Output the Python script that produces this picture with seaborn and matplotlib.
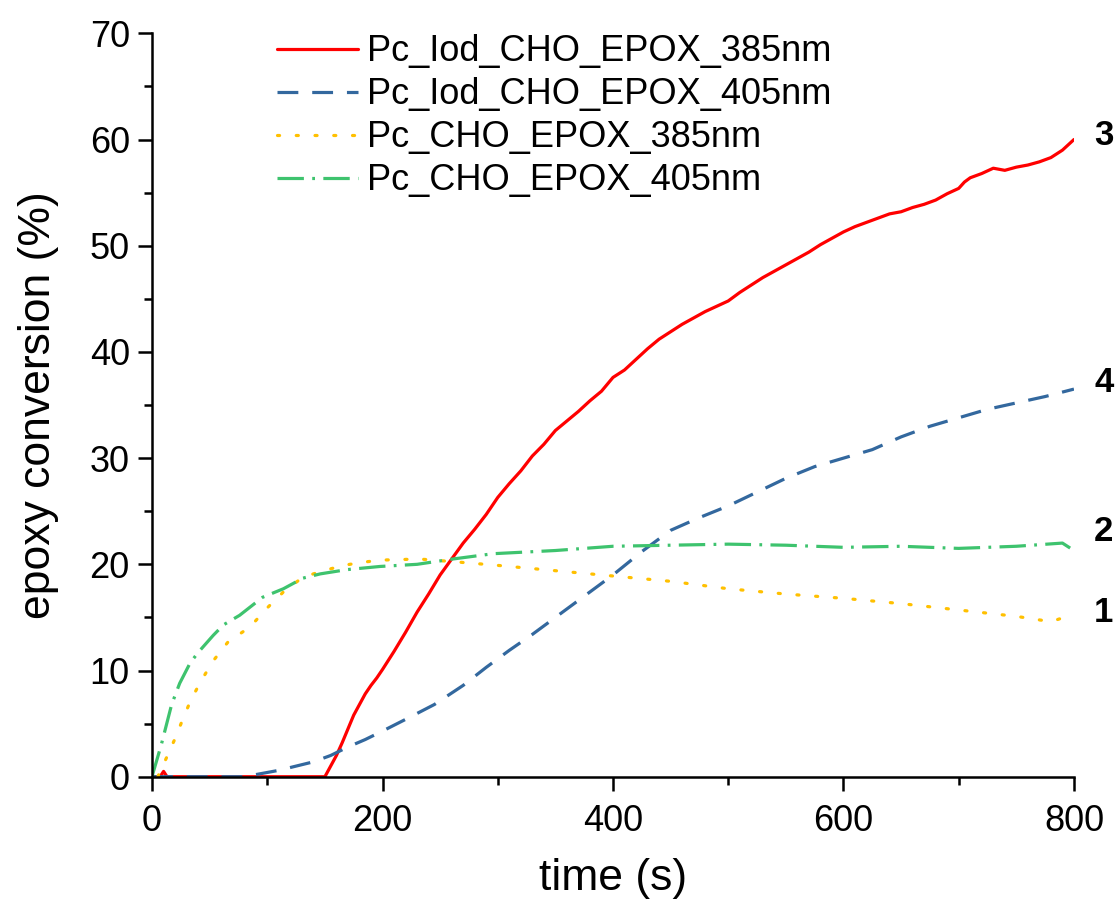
import numpy as np
import pandas as pd
import matplotlib
matplotlib.use("Agg")
import matplotlib.pyplot as plt
import seaborn as sns

# ---- data ----
t_red = [0, 7, 10, 13, 150, 155, 160, 165, 170, 175, 180, 185, 190, 195, 200, 210, 220, 230, 240, 250,
         260, 270, 280, 290, 300, 310, 320, 330, 340, 350, 360, 370, 380, 390, 400, 410, 420, 430, 440,
         450, 460, 470, 480, 490, 500, 510, 520, 530, 540, 550, 560, 570, 580, 590, 600, 610, 620, 630,
         640, 650, 660, 670, 680, 690, 700, 705, 710, 720, 730, 740, 750, 760, 770, 780, 790, 800]
y_red = [0, 0, 0.5, 0, 0, 1.0, 2.0, 3.2, 4.5, 5.8, 6.8, 7.8, 8.6, 9.3, 10.1, 11.8, 13.6, 15.5, 17.2, 19.0,
         20.5, 22.0, 23.3, 24.7, 26.3, 27.6, 28.8, 30.2, 31.3, 32.6, 33.5, 34.4, 35.4, 36.3, 37.6, 38.3, 39.3,
         40.3, 41.2, 41.9, 42.6, 43.2, 43.8, 44.3, 44.8, 45.6, 46.3, 47.0, 47.6, 48.2, 48.8, 49.4, 50.1,
         50.7, 51.3, 51.8, 52.2, 52.6, 53.0, 53.2, 53.6, 53.9, 54.3, 54.9, 55.4, 56.0, 56.4, 56.8, 57.3,
         57.1, 57.4, 57.6, 57.9, 58.3, 59.0, 60.0]

t_blue = [0, 40, 80, 95, 110, 125, 140, 155, 170, 185, 200, 220, 245, 270, 290, 310, 330, 350, 375, 400,
          425, 450, 475, 500, 525, 550, 575, 600, 625, 650, 675, 700, 725, 750, 775, 800]
y_blue = [0, 0, 0, 0.3, 0.6, 1.0, 1.4, 2.0, 2.8, 3.5, 4.3, 5.4, 6.8, 8.6, 10.3, 11.9, 13.4, 15.0, 17.0, 19.0,
          21.2, 23.2, 24.4, 25.5, 26.8, 28.1, 29.2, 30.0, 30.8, 32.0, 33.0, 33.8, 34.6, 35.2, 35.8, 36.5]

t_yel = [5, 13, 20, 27, 34, 43, 53, 66, 85, 100, 114, 131, 149, 166, 183, 199, 232, 267, 300, 350,
         400, 450, 500, 550, 600, 650, 700, 750, 780, 800]
y_yel = [0, 1.9, 3.6, 5.5, 7.3, 9.1, 10.9, 12.7, 14.1, 15.9, 17.4, 18.8, 19.4, 19.9, 20.2, 20.4, 20.5,
         20.2, 19.9, 19.4, 18.9, 18.4, 17.7, 17.2, 16.8, 16.3, 15.7, 15.1, 14.6, 15.3]

t_grn = [0, 1, 8, 17, 24, 33, 40, 53, 62, 76, 96, 114, 131, 146, 169, 198, 230, 261, 296, 350, 400,
         450, 500, 550, 600, 650, 700, 750, 790, 800]
y_grn = [0, 0.4, 3.0, 6.8, 8.8, 10.7, 11.7, 13.3, 14.3, 15.2, 16.9, 17.7, 18.7, 19.1, 19.5, 19.8, 20.0,
         20.5, 21.0, 21.3, 21.7, 21.8, 21.9, 21.8, 21.6, 21.7, 21.5, 21.7, 22.0, 21.3]

labels = ["Pc_Iod_CHO_EPOX_385nm", "Pc_Iod_CHO_EPOX_405nm", "Pc_CHO_EPOX_385nm", "Pc_CHO_EPOX_405nm"]
end_tags = ["3", "4", "1", "2"]
tag_pos = [60.4, 37.1, 15.5, 23.1]

x_major = [0, 200, 400, 600, 800]
y_major = [0, 10, 20, 30, 40, 50, 60, 70]

# ---- styling ----
sns.set_theme(style="ticks")
plt.rcParams['font.family'] = ['Liberation Sans', 'DejaVu Sans']
plt.rcParams['lines.scale_dashes'] = False
plt.rcParams['text.color'] = 'black'
plt.rcParams['axes.labelcolor'] = 'black'

colors = ["#FF0000", "#33689E", "#FFC000", "#3EC36E"]
styles = ["-", (0, (15, 10)), (0, (1.5, 12)), (0, (19, 6, 2, 6))]
caps = ["butt", "butt", "round", "butt"]

fig = plt.figure(figsize=(11.18, 9.06), dpi=100)
ax = fig.add_axes([0.136, 0.1427, 0.8246, 0.8205])

series = [(t_red, y_red), (t_blue, y_blue), (t_yel, y_yel), (t_grn, y_grn)]
for (tx, ty), lab, c, ls, cap in zip(series, labels, colors, styles, caps):
    sns.lineplot(x=tx, y=ty, ax=ax, color=c, linestyle=ls, linewidth=2.3, label=lab,
                 sort=False, errorbar=None, dash_capstyle=cap, solid_capstyle="round")

ax.set_xlim(0, 800)
ax.set_ylim(0, 70)
ax.set_xticks(x_major)
ax.set_yticks(y_major)
ax.set_xticks([100, 300, 500, 700], minor=True)
ax.set_yticks([5, 15, 25, 35, 45, 55, 65], minor=True)
ax.tick_params(axis="both", which="major", direction="out", length=10, width=1.8,
               labelsize=26, pad=6, color="black", labelcolor="black")
ax.tick_params(axis="x", which="major", pad=10)
ax.tick_params(axis="both", which="minor", direction="out", length=5.5, width=1.8, color="black")
for s in ["top", "right"]:
    ax.spines[s].set_visible(False)
for s in ["left", "bottom"]:
    ax.spines[s].set_linewidth(1.8)
    ax.spines[s].set_color("black")

ax.set_xlabel("time (s)", fontsize=32, labelpad=13)
ax.set_ylabel("epoxy conversion (%)", fontsize=32, labelpad=22)

leg = ax.legend(loc="upper left", bbox_to_anchor=(0.135, 0.9985), frameon=False, fontsize=26,
                handlelength=2.25, handletextpad=0.25, labelspacing=0.22, borderaxespad=0,
                borderpad=0)

for tag, v in zip(end_tags, tag_pos):
    ax.text(1.0325, v, tag, transform=ax.get_yaxis_transform(), ha="center", va="center",
            fontsize=25, fontweight="bold", clip_on=False)

fig.savefig("out.png", dpi=100)
